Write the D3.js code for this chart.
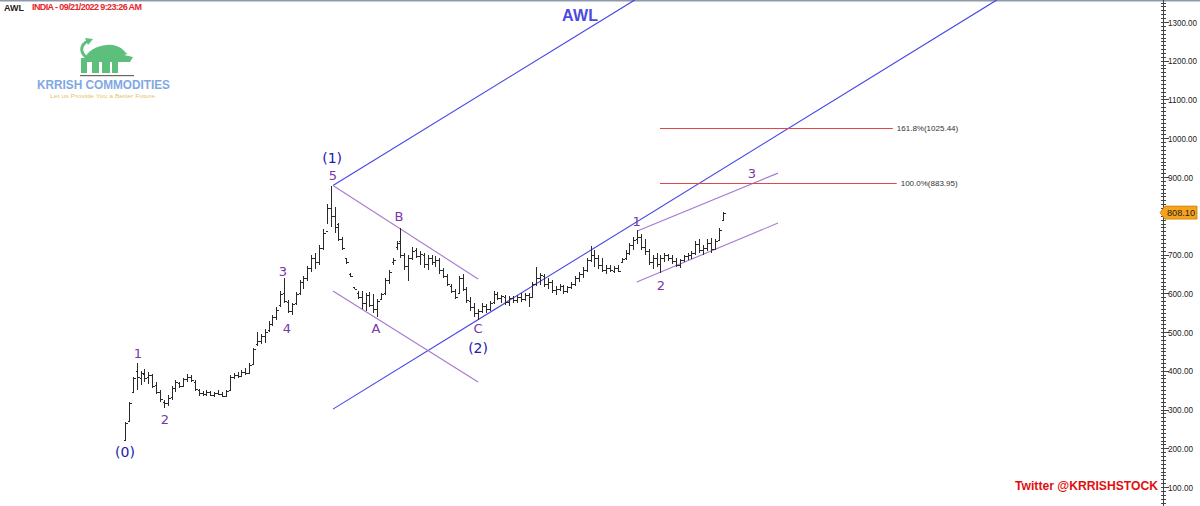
<!DOCTYPE html>
<html><head><meta charset="utf-8">
<script src="https://cdn.jsdelivr.net/npm/d3@7"></script>
<style>html,body{margin:0;padding:0;background:#fff;overflow:hidden}svg{display:block}</style>
</head><body>
<svg id="c" width="1200" height="506"></svg>
<script>
// ---------- DATA (daily OHLC, AWL Feb–Sep 2022) ----------
const opens  = [221,270,345,400,380,392,384,388,362,345,320,318,332,355,368,360,378,384,372,350,342,340,345,338,343,340,336,350,385,390,386,398,395,418,470,478,490,505,520,540,570,600,578,555,575,600,628,640,665,690,680,718,760,820,800,780,740,690,650,615,600,590,575,595,570,560,585,600,635,680,720,735,700,670,690,712,695,700,675,690,680,685,660,645,620,605,600,640,610,580,565,550,555,568,560,578,598,588,590,578,588,582,590,585,596,590,625,640,645,625,630,608,612,618,605,615,625,640,650,660,685,700,690,672,660,665,658,665,680,690,705,725,740,745,720,710,680,690,675,690,698,690,682,672,685,695,698,704,728,712,718,730,715,738,790];
const highs  = [268,319,384,420,400,405,398,392,370,350,324,338,360,375,372,382,392,390,375,352,348,350,349,346,350,345,350,390,395,398,402,408,420,460,500,495,508,528,545,565,605,640,582,575,602,635,645,670,700,705,725,765,830,878,822,782,745,692,652,617,606,605,600,602,598,585,600,640,660,690,735,768,705,700,720,718,710,705,700,700,695,690,665,650,625,610,645,650,615,590,575,560,575,572,580,605,602,595,596,592,594,596,600,600,600,630,668,652,650,640,635,620,625,622,620,630,645,655,668,690,722,712,700,690,672,672,670,672,690,712,730,745,762,752,740,715,700,705,700,705,702,700,690,688,700,705,708,735,740,725,740,742,740,768,810];
const lows   = [221,268,343,350,362,372,365,355,340,320,304,310,325,345,355,358,370,372,348,336,335,336,334,333,338,332,333,348,378,382,384,390,393,415,465,470,472,500,515,532,565,575,548,544,570,595,612,632,655,662,672,712,778,770,755,735,712,676,642,610,585,560,555,565,550,539,583,596,625,672,712,690,660,632,685,690,672,665,660,672,668,650,640,618,600,585,598,605,575,555,540,532,548,550,555,572,582,575,570,568,575,575,578,580,565,588,618,622,615,610,600,595,605,598,600,610,620,630,640,655,680,668,662,655,650,655,652,655,678,685,700,712,728,712,700,672,662,668,652,680,682,676,668,665,680,685,688,700,705,700,710,705,712,735,788];
const closes = [265,318,382,383,395,380,390,360,345,328,318,330,355,370,360,378,385,376,352,342,340,345,338,343,340,336,348,385,390,386,398,395,415,455,478,490,500,520,538,558,598,580,555,572,598,628,640,665,690,680,718,755,820,800,770,740,718,680,645,612,590,575,595,570,560,580,598,635,655,685,730,700,670,690,710,695,702,675,690,680,685,660,645,625,605,590,640,610,582,565,550,555,568,560,575,598,588,592,578,588,582,590,585,596,590,625,640,648,625,630,608,612,618,605,615,625,640,650,660,685,700,690,672,660,665,660,665,658,688,705,725,738,745,720,710,680,690,675,690,698,690,682,672,685,695,698,704,728,712,718,730,715,735,762,808.1];

// 800.00 is hidden behind the last-price marker in the reference
const yTicks = [100,200,300,400,500,600,700,900,1000,1100,1200,1300];
const lastPrice = 808.10;

// trend lines: [index0, price0, index1, price1, kind]
const trendLines = [
  [53.6, 878, 131.4, 1357, "blue"],
  [53.6, 301, 224.7, 1357, "blue"],
  [53.6, 878, 91.0, 637, "purple"],
  [53.6, 606, 91.0, 371, "purple"],
  [132.2, 761, 168.3, 910, "purple"],
  [131.9, 629, 168.3, 781, "purple"]
];
// fibonacci projection levels
const fibLabels = ["161.8%(1025.44)", "100.0%(883.95)"];
const fibValues = [1025.44, 883.95];
const fibStart  = [137.9, 137.9];
const fibEnd    = [197.9, 198.9];

// wave labels: text, index, price, kind
const waveLabels = [
  ["(0)", 0, 190, "major"], ["1", 3.35, 445, "minor"], ["2", 10.3, 273, "minor"],
  ["3", 40.7, 655, "minor"], ["4", 41.7, 508, "minor"], ["(1)", 53.4, 949, "major"],
  ["5", 53.6, 903, "minor"], ["A", 64.7, 508, "minor"], ["B", 70.6, 797, "minor"],
  ["C", 91.0, 508, "minor"], ["(2)", 91.0, 459, "major"], ["1", 131.9, 786, "minor"],
  ["2", 138.1, 621, "minor"], ["3", 161.6, 910, "minor"]
];

// ---------- CHART ----------
const svg = d3.select("#c");
const x = d3.scaleLinear().domain([0, 154]).range([125, 722.5]);
const y = d3.scaleLinear().domain([100, 1300]).range([487, 22]);

// top border
svg.append("rect").attr("x",0).attr("y",0).attr("width",1200).attr("height",1.5).attr("fill","#8d99a8");

// header
svg.append("text").attr("x",4).attr("y",11).attr("font-family","Liberation Sans, Arial").attr("font-weight","bold")
  .attr("font-size",9).attr("fill","#222").text("AWL");
svg.append("text").attr("x",32).attr("y",10).attr("font-family","Liberation Sans, Arial").attr("font-weight","bold")
  .attr("font-size",9).attr("fill","#e8262a").attr("textLength",110).text("INDIA - 09/21/2022 9:23:26 AM");

// title
svg.append("text").attr("x",562).attr("y",21).attr("font-family","Liberation Sans, Arial").attr("font-weight","bold")
  .attr("font-size",16).attr("fill","#4b4be0").attr("textLength",36).text("AWL");

// logo
const logo = svg.append("g");
const green = "#5cbf7b";
logo.append("path").attr("d","M84,60 C87,51 96,46 107,45 C116,44 122,48 126,53 L133,57 L130,62 L122,62 L84,62 Z").attr("fill",green);
[[81,58,6,15],[92,56,7,17],[102,51,8,22],[112,57,6,16]].forEach(r=>{
  logo.append("rect").attr("x",r[0]).attr("y",r[1]).attr("width",r[2]).attr("height",r[3]).attr("fill",green);
});
logo.append("path").attr("d","M86,57 C80,52 80,45 88,41").attr("fill","none").attr("stroke",green).attr("stroke-width",3);
logo.append("path").attr("d","M85,38 L93,39 L88,45 Z").attr("fill",green);
logo.append("path").attr("d","M124,55 L131,53 L133,57 Z").attr("fill","#fff");
logo.append("rect").attr("x",80).attr("y",75).attr("width",54).attr("height",1.2).attr("fill","#666");
logo.append("text").attr("x",37).attr("y",89).attr("font-family","Liberation Sans, Arial").attr("font-weight","bold")
  .attr("font-size",13).attr("fill","#7ea8e4").attr("textLength",133).attr("lengthAdjust","spacingAndGlyphs").text("KRRISH COMMODITIES");
logo.append("text").attr("x",50).attr("y",98).attr("font-family","Liberation Sans, Arial")
  .attr("font-size",6).attr("fill","#e5c56e").attr("textLength",105).attr("lengthAdjust","spacingAndGlyphs").text("Let us Provide You a Better Future");

// trend lines
const lineColors = {blue:"#4646e6", purple:"#a77ad0"};
svg.append("g").selectAll("line").data(trendLines).join("line")
  .attr("x1",d=>x(d[0])).attr("y1",d=>y(d[1])).attr("x2",d=>x(d[2])).attr("y2",d=>y(d[3]))
  .attr("stroke",d=>lineColors[d[4]]).attr("stroke-width",1.1);

// fib lines
const fg = svg.append("g");
fibValues.forEach((v,k)=>{
  fg.append("line").attr("x1",x(fibStart[k])).attr("x2",x(fibEnd[k])).attr("y1",Math.round(y(v))+0.5).attr("y2",Math.round(y(v))+0.5)
    .attr("stroke","#e04848").attr("stroke-width",1);
  fg.append("text").attr("x",x(fibEnd[k])+4).attr("y",y(v)+3).attr("font-family","Liberation Sans, Arial")
    .attr("font-size",8).attr("fill","#333").text(fibLabels[k]);
});

// OHLC bars
const bars = svg.append("g").attr("stroke","#2a2a2a").attr("stroke-width",1).attr("shape-rendering","crispEdges");
closes.forEach((c,i)=>{
  const xi = Math.round(x(i))+0.5;
  bars.append("line").attr("x1",xi).attr("x2",xi).attr("y1",y(highs[i])).attr("y2",y(lows[i]));
  bars.append("line").attr("x1",xi-2).attr("x2",xi).attr("y1",Math.round(y(opens[i]))+0.5).attr("y2",Math.round(y(opens[i]))+0.5);
  bars.append("line").attr("x1",xi).attr("x2",xi+2).attr("y1",Math.round(y(c))+0.5).attr("y2",Math.round(y(c))+0.5);
});

// wave labels
svg.append("g").selectAll("text").data(waveLabels).join("text")
  .attr("x",d=>x(d[1])).attr("y",d=>y(d[2])).attr("text-anchor","middle").attr("dominant-baseline","central")
  .attr("font-family","DejaVu Sans, Verdana").attr("font-size",d=>d[3]==="major"?14:13)
  .attr("fill",d=>d[3]==="major"?"#2020b0":"#7a35a8").text(d=>d[0]);

// right axis
const ax = svg.append("g").attr("shape-rendering","crispEdges");
const axisX = 1163.5;
ax.append("line").attr("x1",axisX).attr("x2",axisX).attr("y1",0).attr("y2",506).attr("stroke","#444");
const minor = d3.range(0, 1400, 10);
minor.forEach(v=>{
  const yy = Math.round(y(v))+0.5;
  if (yy<0||yy>506) return;
  const major = v%100===0;
  ax.append("line").attr("x1",axisX-3).attr("x2",axisX+(major?5:2)).attr("y1",yy).attr("y2",yy).attr("stroke","#444");
});
ax.selectAll("text.t").data(yTicks).join("text").attr("class","t")
  .attr("x",1168).attr("y",d=>y(d)+3.5).attr("font-family","Liberation Sans, Arial").attr("font-size",8.5)
  .attr("fill","#222").attr("textLength",d=>d>=1000?29:25).attr("lengthAdjust","spacingAndGlyphs").text(d=>d.toFixed(2));

// last price marker
const ly = y(lastPrice);
svg.append("path").attr("d",`M1160,${ly} L1165,${ly-6.5} L1197,${ly-6.5} L1197,${ly+6.5} L1165,${ly+6.5} Z`)
  .attr("fill","#f7a21b").attr("stroke","#c98010").attr("stroke-width",0.8);
svg.append("text").attr("x",1167).attr("y",ly+3.5).attr("font-family","Liberation Sans, Arial").attr("font-size",9.5)
  .attr("fill","#222").attr("textLength",28).attr("lengthAdjust","spacingAndGlyphs").text(lastPrice.toFixed(2));

// twitter
svg.append("text").attr("x",1015).attr("y",490).attr("font-family","Liberation Sans, Arial").attr("font-weight","bold")
  .attr("font-size",12).attr("fill","#e01010").attr("textLength",143).attr("lengthAdjust","spacingAndGlyphs").text("Twitter @KRRISHSTOCK");
</script>
</body></html>
